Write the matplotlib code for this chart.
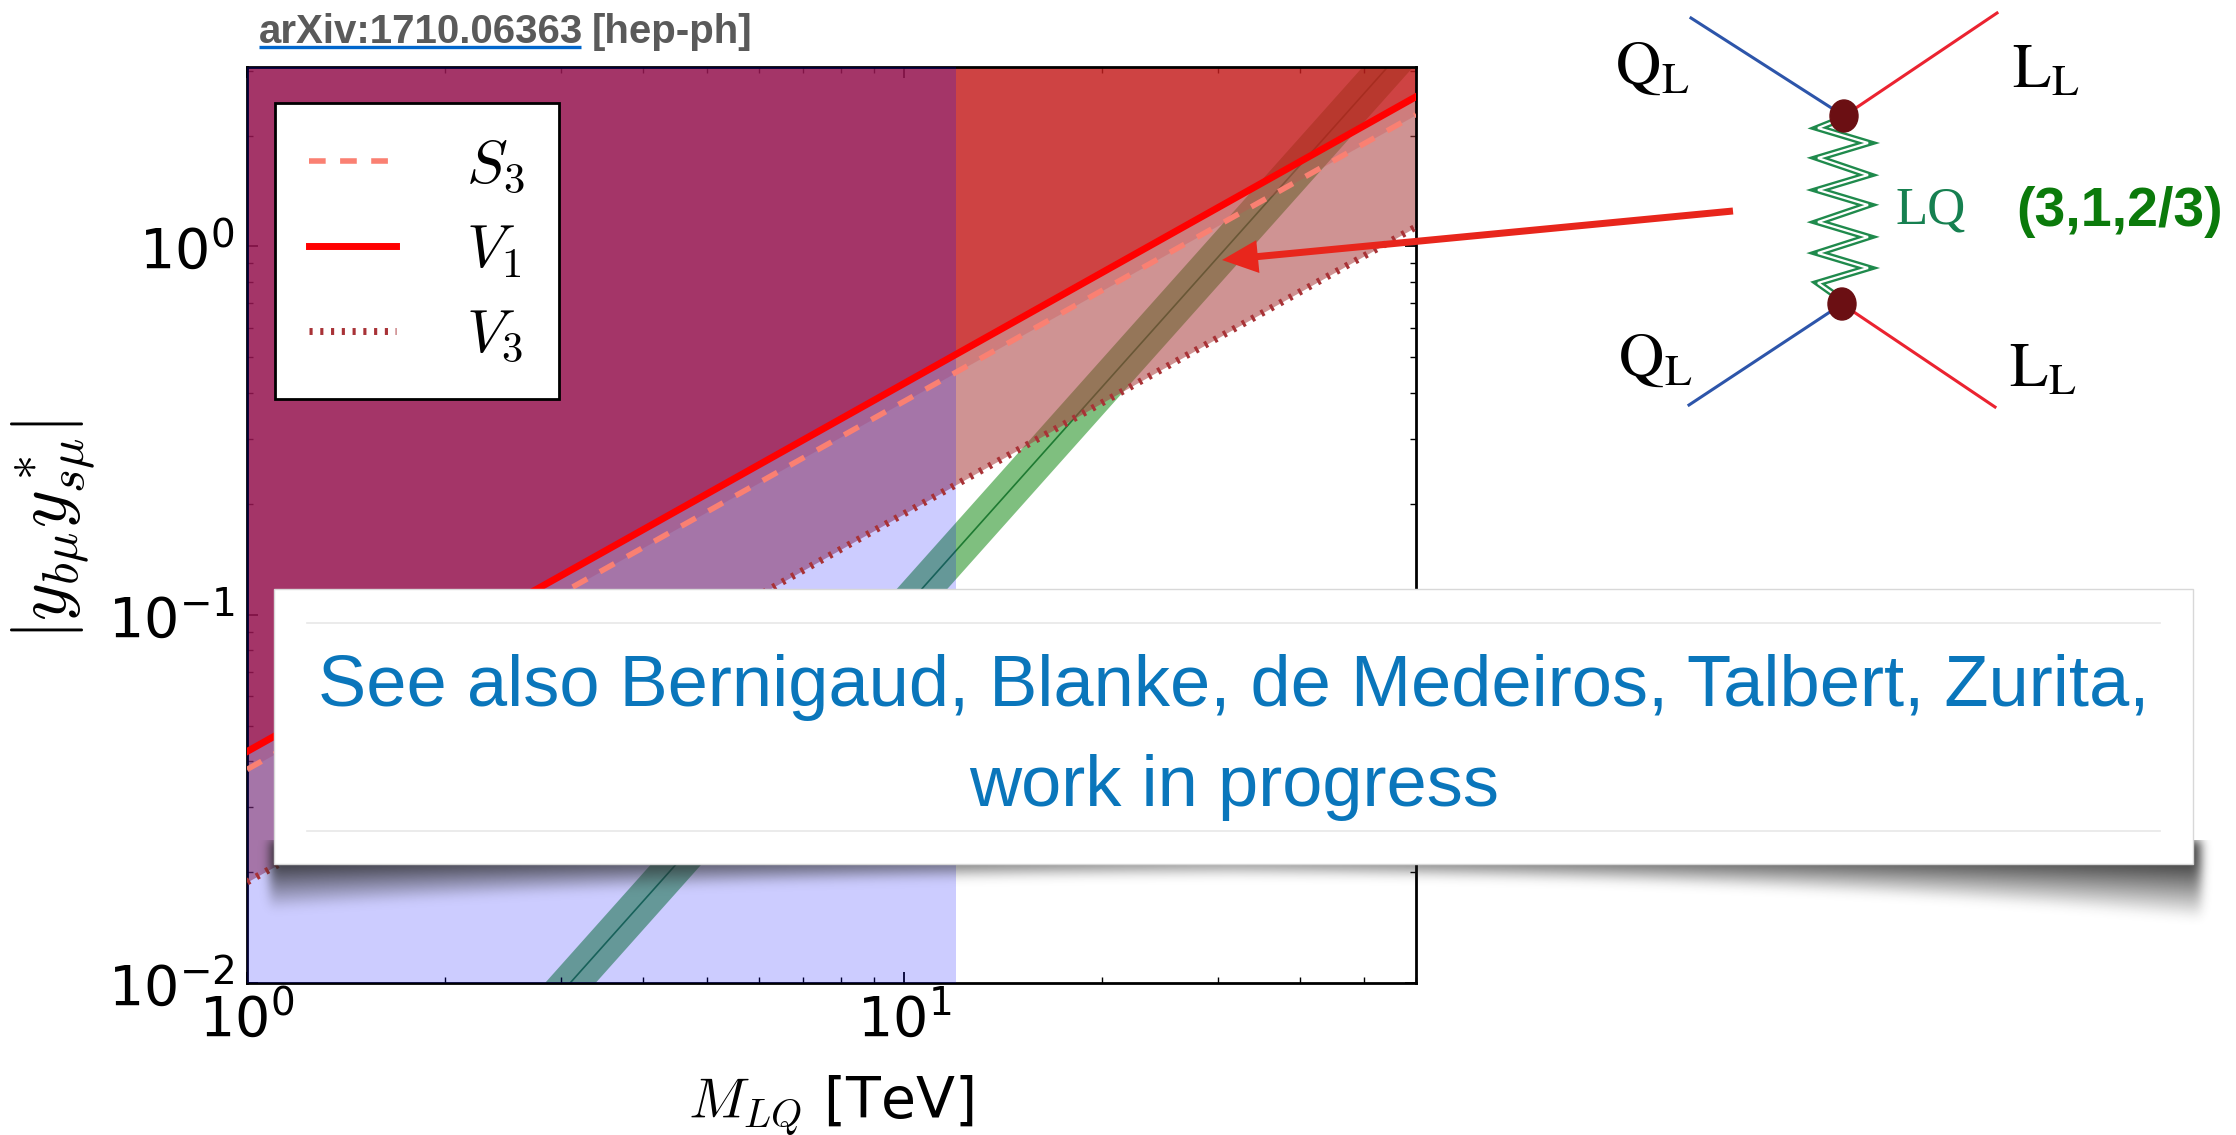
import numpy as np
import matplotlib
matplotlib.use('Agg')
from matplotlib import pyplot as plt
from matplotlib.patches import Rectangle, Ellipse, FancyArrow
from matplotlib.ticker import NullFormatter

W, H = 2236, 1135

# bounds on |y_bmu y*_smu| against the leptoquark mass (straight lines in log-log)
mass = np.array([1.0, 60.0])
s3_bound = np.array([0.038, 2.28])
v1_bound = np.array([0.0425, 2.55])
v3_bound = np.array([0.0188, 1.13])

# preferred band, grows like M^2
band_center = np.array([0.00104, 3.744])
band_low = np.array([0.00087, 3.13])
band_high = np.array([0.00124, 4.46])

mass_limit = 12.0
xmin, xmax = 1.0, 60.0
ymin, ymax = 1e-2, 3.07

fig = plt.figure(figsize=(W / 100, H / 100), dpi=100)
ax = fig.add_axes([247 / W, 1 - 983 / H, (1416 - 247) / W, (983 - 67) / H])
ax.set_xscale('log')
ax.set_yscale('log')

ax.fill_between(mass, band_low, band_high, color=(0, 0.5, 0), alpha=0.5, lw=0, zorder=1)
ax.plot(mass, band_center, color='#1e7a32', lw=1.2, zorder=1.1)
# excluded regions above each bound
ax.fill_between(mass, v3_bound, 10, color=(0.66, 0.23, 0.23), alpha=0.55, lw=0, zorder=2)
ax.fill_between(mass, s3_bound, 10, color=(0.8, 0.3, 0.3), alpha=0.3, lw=0, zorder=2)
ax.fill_between(mass, v1_bound, 10, color=(0.81, 0, 0), alpha=0.46, lw=0, zorder=2)
ax.axvspan(xmin, mass_limit, color=(0, 0, 1), alpha=0.2, lw=0, zorder=3)

ax.plot(mass, s3_bound, color='salmon', lw=4, dashes=(3, 2.6), label=r'$S_3$', zorder=5)
ax.plot(mass, v1_bound, color='red', lw=5, label=r'$V_1$', zorder=5)
ax.plot(mass, v3_bound, color='#a83236', lw=5, dashes=(0.45, 1.1), label=r'$V_3$', zorder=5)

ax.set_xlim(xmin, xmax)
ax.set_ylim(ymin, ymax)
ax.xaxis.set_minor_formatter(NullFormatter())
ax.yaxis.set_minor_formatter(NullFormatter())
ax.tick_params(which='both', direction='in', top=True, right=True, labelsize=40)
ax.tick_params(which='major', length=8, width=1.3)
ax.tick_params(which='minor', length=4, width=1)
ax.tick_params(axis='x', pad=7)
ax.tick_params(axis='y', pad=9)
for s in ax.spines.values():
    s.set_linewidth(2)

ax.set_ylabel(r'$|y_{b\mu}y^*_{s\mu}|$', fontsize=52, math_fontfamily='cm')
ax.yaxis.set_label_coords(-0.128, 0.4945)
ax.set_xlabel(r'$M_{LQ}$ [TeV]', fontsize=41, math_fontfamily='cm')
ax.xaxis.set_label_coords((831 - 247) / 1169, 1 - (1073 - 67) / 916)

leg = ax.legend(loc='upper left', bbox_to_anchor=((275 - 247) / 1169, 1 - (103 - 67) / 916),
                borderaxespad=0, fontsize=44, handlelength=1.43, handletextpad=1.15,
                labelspacing=0.42, borderpad=0.55, fancybox=False, framealpha=1,
                edgecolor='black')
leg.get_frame().set_linewidth(2)
for t in leg.get_texts():
    t.set_math_fontfamily('cm')

# overlay in pixel coordinates
ov = fig.add_axes([0, 0, 1, 1], zorder=10)
ov.patch.set_visible(False)

ov.text(259, 43, 'arXiv:1710.06363', fontsize=29, fontweight='bold',
        color='#5a5a5a', family='Liberation Sans', ha='left', va='baseline')
ov.text(592, 43, '[hep-ph]', fontsize=29, fontweight='bold',
        color='#5a5a5a', family='Liberation Sans', ha='left', va='baseline')
ov.plot([259, 581], [47, 47], color='#0066cc', lw=2.4, solid_capstyle='butt')

# curled shadow under the note
def blur(a, s):
    k = np.exp(-0.5 * (np.arange(-3 * s, 3 * s + 1) / s) ** 2)
    k /= k.sum()
    a = np.apply_along_axis(lambda r: np.convolve(r, k, mode='same'), 1, a)
    return np.apply_along_axis(lambda c: np.convolve(c, k, mode='same'), 0, a)

sx = np.arange(240, 2240)
sy = np.arange(840, 960)
gx, gy = np.meshgrid(sx, sy)
t = (gx - 274) / (2193 - 274)
u = np.abs(2 * t - 1)
depth = 12 + np.where(t < 0.5, 34, 43) * u ** 2
amax = 0.45 + 0.4 * u
alpha = amax * np.clip(1 - (gy - 864) / depth, 0, 1)
alpha[(gx < 270) | (gx > 2200)] = 0
alpha = blur(alpha, 5)
shadow = np.zeros(alpha.shape + (4,))
shadow[..., :3] = 0.15
shadow[..., 3] = alpha
ov.imshow(shadow, extent=[240, 2240, 960, 840], aspect='auto', interpolation='bilinear', zorder=2)

ov.add_patch(Rectangle((274, 589), 1919, 275, facecolor='white', edgecolor='#d8d8d8', lw=1, zorder=3))
ov.plot([307, 2160], [623, 623], color='#e8e8e8', lw=1.2, zorder=4)
ov.plot([307, 2160], [831, 831], color='#e8e8e8', lw=1.2, zorder=4)
ov.text(1234, 706, 'See also Bernigaud, Blanke, de Medeiros, Talbert, Zurita,', ha='center',
        va='baseline', fontsize=52, color='#0a76bb', family='Liberation Sans', zorder=5)
ov.text(1234, 806, 'work in progress', ha='center', va='baseline', fontsize=52,
        color='#0a76bb', family='Liberation Sans', zorder=5)

# leptoquark exchange diagram
blue, red = '#2d55aa', '#eb2330'
ov.plot([1691, 1844], [18, 116], color=blue, lw=2.2)
ov.plot([1997, 1844], [13, 116], color=red, lw=2.2)
ov.plot([1689, 1842], [405, 304], color=blue, lw=2.2)
ov.plot([1995, 1842], [407, 304], color=red, lw=2.2)
zig_x = [1843, 1818, 1868, 1818, 1868, 1818, 1868, 1818, 1868, 1818, 1868, 1818, 1842]
zig_y = [118, 128, 143, 158, 175, 190, 205, 222, 237, 253, 268, 283, 300]
ov.plot(zig_x, zig_y, color='#1f8a4c', lw=5, solid_joinstyle='miter')
ov.plot(zig_x, zig_y, color='white', lw=1.6, solid_joinstyle='miter')
ov.add_patch(Ellipse((1844, 116), 28, 32, color='#6b0f13', zorder=4))
ov.add_patch(Ellipse((1842, 304), 28, 32, color='#6b0f13', zorder=4))

lab = dict(fontsize=45, color='black', ha='center', va='center', math_fontfamily='stix')
ov.text(1652, 68, r'$\mathrm{Q}_\mathrm{L}$', **lab)
ov.text(2046, 71, r'$\mathrm{L}_\mathrm{L}$', **lab)
ov.text(1655, 360, r'$\mathrm{Q}_\mathrm{L}$', **lab)
ov.text(2043, 370, r'$\mathrm{L}_\mathrm{L}$', **lab)
ov.text(1931, 211, 'LQ', fontsize=38, color='#168050', family='Liberation Serif',
        ha='center', va='center')
ov.text(2120, 212, '(3,1,2/3)', fontsize=40, fontweight='bold', color='#0b7a0b',
        family='Liberation Sans', ha='center', va='center')

ov.add_patch(FancyArrow(1733, 211, 1222 - 1733, 260 - 211, width=7, head_width=33,
                        head_length=36, length_includes_head=True, color='#e8261c', lw=0, zorder=6))

ov.set_xlim(0, W)
ov.set_ylim(H, 0)
ov.axis('off')

fig.savefig('out.png', dpi=100)
